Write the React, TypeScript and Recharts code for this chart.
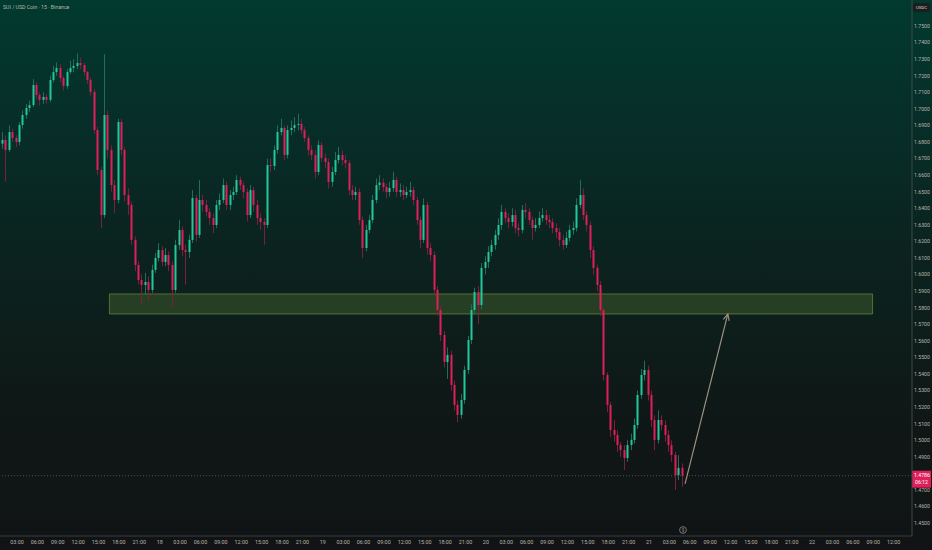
import React from 'react';
import { ComposedChart, Bar, XAxis, YAxis, ReferenceArea, ReferenceLine, ReferenceDot } from 'recharts';

// Candle timing: hours after 17 00:00, 30-minute candles (aggregated from the 15m view)
const START_HOUR = 0.75;
const STEP_HOURS = 0.5;
const FIRST_OPEN = 1.679;

const closes = [
  1.6812, 1.6752, 1.6860, 1.6824, 1.6800, 1.6903, 1.6963, 1.7005, 1.7023, 1.7144,
  1.7084, 1.7054, 1.7072, 1.7054, 1.7174, 1.7222, 1.7247, 1.7186, 1.7138, 1.7222,
  1.7247, 1.7259, 1.7277, 1.7265, 1.7222, 1.7174, 1.7102, 1.6872, 1.6631, 1.6359,
  1.6963, 1.6752, 1.6540, 1.6450, 1.6921, 1.6752, 1.6480, 1.6420, 1.6209, 1.6058,
  1.5967, 1.5937, 1.5955, 1.5907, 1.6028, 1.6100, 1.6148, 1.6076, 1.6118, 1.6058,
  1.5907, 1.6178, 1.6269, 1.6148, 1.6136, 1.6209, 1.6462, 1.6239, 1.6450, 1.6420,
  1.6378, 1.6341, 1.6299, 1.6420, 1.6450, 1.6540, 1.6420, 1.6480, 1.6498, 1.6571,
  1.6540, 1.6498, 1.6359, 1.6510, 1.6420, 1.6341, 1.6317, 1.6299, 1.6661, 1.6655,
  1.6752, 1.6860, 1.6885, 1.6722, 1.6872, 1.6885, 1.6903, 1.6909, 1.6872, 1.6824,
  1.6752, 1.6722, 1.6619, 1.6782, 1.6704, 1.6679, 1.6559, 1.6619, 1.6691, 1.6722,
  1.6691, 1.6673, 1.6510, 1.6480, 1.6498, 1.6329, 1.6160, 1.6269, 1.6329, 1.6450,
  1.6540, 1.6555, 1.6528, 1.6498, 1.6522, 1.6571, 1.6498, 1.6510, 1.6480, 1.6498,
  1.6510, 1.6450, 1.6329, 1.6209, 1.6420, 1.6160, 1.6118, 1.5907, 1.5786, 1.5635,
  1.5472, 1.5515, 1.5334, 1.5213, 1.5153, 1.5243, 1.5424, 1.5605, 1.5786, 1.5895,
  1.5816, 1.6040, 1.6076, 1.6136, 1.6178, 1.6239, 1.6299, 1.6378, 1.6341, 1.6317,
  1.6359, 1.6281, 1.6269, 1.6390, 1.6378, 1.6329, 1.6281, 1.6299, 1.6341, 1.6359,
  1.6329, 1.6317, 1.6281, 1.6257, 1.6209, 1.6178, 1.6221, 1.6269, 1.6281, 1.6420,
  1.6480, 1.6359, 1.6299, 1.6148, 1.6040, 1.5937, 1.5786, 1.5394, 1.5213, 1.5062,
  1.5032, 1.4971, 1.4941, 1.4893, 1.4971, 1.5002, 1.5092, 1.5273, 1.5394, 1.5424,
  1.5273, 1.5122, 1.5002, 1.5122, 1.5092, 1.5032, 1.4971, 1.4911, 1.4790, 1.4833,
  1.4786,
];

const highs = [
  1.686, 1.684, 1.690, 1.688, 1.684, 1.692, 1.699, 1.703, 1.705, 1.718,
  1.716, 1.710, 1.710, 1.709, 1.720, 1.726, 1.728, 1.727, 1.720, 1.724,
  1.729, 1.730, 1.7335, 1.731, 1.728, 1.723, 1.719, 1.712, 1.689, 1.665,
  1.733, 1.699, 1.678, 1.657, 1.694, 1.694, 1.677, 1.652, 1.644, 1.623,
  1.608, 1.600, 1.601, 1.599, 1.606, 1.613, 1.619, 1.617, 1.616, 1.614,
  1.608, 1.621, 1.633, 1.629, 1.618, 1.624, 1.651, 1.648, 1.657, 1.648,
  1.645, 1.640, 1.637, 1.645, 1.649, 1.658, 1.656, 1.651, 1.653, 1.660,
  1.659, 1.656, 1.652, 1.654, 1.653, 1.645, 1.637, 1.634, 1.670, 1.670,
  1.678, 1.690, 1.694, 1.690, 1.690, 1.693, 1.695, 1.697, 1.694, 1.689,
  1.684, 1.678, 1.675, 1.681, 1.680, 1.673, 1.670, 1.665, 1.674, 1.677,
  1.675, 1.672, 1.669, 1.654, 1.653, 1.652, 1.635, 1.630, 1.636, 1.648,
  1.658, 1.660, 1.658, 1.655, 1.656, 1.662, 1.659, 1.655, 1.654, 1.653,
  1.656, 1.653, 1.647, 1.635, 1.646, 1.644, 1.619, 1.614, 1.593, 1.581,
  1.566, 1.556, 1.554, 1.536, 1.524, 1.528, 1.545, 1.563, 1.582, 1.592,
  1.593, 1.607, 1.611, 1.617, 1.621, 1.627, 1.634, 1.642, 1.640, 1.637,
  1.640, 1.639, 1.631, 1.642, 1.643, 1.640, 1.635, 1.634, 1.638, 1.640,
  1.639, 1.636, 1.634, 1.631, 1.628, 1.624, 1.626, 1.630, 1.632, 1.646,
  1.657, 1.652, 1.638, 1.632, 1.617, 1.606, 1.596, 1.580, 1.541, 1.523,
  1.512, 1.506, 1.499, 1.497, 1.500, 1.504, 1.513, 1.530, 1.543, 1.548,
  1.545, 1.530, 1.515, 1.518, 1.515, 1.512, 1.506, 1.500, 1.493, 1.491,
  1.486,
];

const lows = [
  1.676, 1.656, 1.674, 1.680, 1.677, 1.678, 1.688, 1.694, 1.698, 1.701,
  1.706, 1.702, 1.703, 1.703, 1.704, 1.716, 1.720, 1.716, 1.711, 1.712,
  1.721, 1.722, 1.724, 1.724, 1.720, 1.715, 1.708, 1.685, 1.660, 1.628,
  1.634, 1.670, 1.650, 1.637, 1.643, 1.672, 1.644, 1.636, 1.618, 1.602,
  1.594, 1.582, 1.588, 1.584, 1.589, 1.601, 1.608, 1.605, 1.605, 1.602,
  1.580, 1.589, 1.615, 1.611, 1.594, 1.610, 1.619, 1.620, 1.622, 1.638,
  1.635, 1.630, 1.625, 1.628, 1.639, 1.643, 1.639, 1.639, 1.645, 1.648,
  1.651, 1.646, 1.632, 1.634, 1.638, 1.630, 1.627, 1.618, 1.628, 1.662,
  1.663, 1.673, 1.684, 1.669, 1.670, 1.684, 1.686, 1.687, 1.685, 1.680,
  1.672, 1.669, 1.658, 1.660, 1.668, 1.664, 1.652, 1.653, 1.660, 1.667,
  1.666, 1.664, 1.648, 1.645, 1.645, 1.630, 1.610, 1.614, 1.625, 1.631,
  1.643, 1.651, 1.650, 1.646, 1.647, 1.650, 1.647, 1.647, 1.645, 1.646,
  1.647, 1.642, 1.630, 1.616, 1.619, 1.612, 1.608, 1.587, 1.575, 1.560,
  1.544, 1.537, 1.530, 1.518, 1.511, 1.513, 1.522, 1.540, 1.558, 1.576,
  1.570, 1.579, 1.600, 1.604, 1.611, 1.615, 1.621, 1.627, 1.631, 1.628,
  1.629, 1.625, 1.623, 1.625, 1.634, 1.630, 1.621, 1.626, 1.628, 1.632,
  1.630, 1.628, 1.625, 1.622, 1.617, 1.615, 1.616, 1.620, 1.624, 1.626,
  1.640, 1.633, 1.626, 1.610, 1.600, 1.590, 1.575, 1.536, 1.517, 1.502,
  1.499, 1.493, 1.490, 1.482, 1.487, 1.494, 1.498, 1.507, 1.525, 1.536,
  1.524, 1.508, 1.494, 1.498, 1.506, 1.499, 1.493, 1.487, 1.470, 1.476,
  1.472,
];

// 1.4800 sits under the live price tag in the reference, so it is not listed
const priceTicks = [
  1.45, 1.46, 1.47, 1.49, 1.50, 1.51, 1.52, 1.53, 1.54, 1.55,
  1.56, 1.57, 1.58, 1.59, 1.60, 1.61, 1.62, 1.63, 1.64, 1.65,
  1.66, 1.67, 1.68, 1.69, 1.70, 1.71, 1.72, 1.73, 1.74, 1.75,
];

const timeTicks = [
  3, 6, 9, 12, 15, 18, 21, 24, 27, 30, 33, 36, 39, 42, 45, 48, 51, 54, 57, 60, 63, 66,
  69, 72, 75, 78, 81, 84, 87, 90, 93, 96, 99, 102, 105, 108, 111, 114, 117, 120, 123,
  126, 129, 132,
];

const FIRST_DAY = 17;
const X_DOMAIN = [0.5, 134.7];
const Y_DOMAIN = [1.4422, 1.7657];

// Support zone and projection arrow
const zone = { x1: 16.6, x2: 128.9, low: 1.5762, high: 1.5883 };
const arrow = { fromT: 101.3, fromP: 1.4736, toT: 107.6, toP: 1.5762 };
const lastPrice = 1.4786;
const countdown = '06:12';

const UP = '#22c79b';
const DOWN = '#df1f5a';
const UP_WICK = '#1f6f5a';
const DOWN_WICK = '#7a1f3d';
const TEXT = '#b9b5a8';

const data = closes.map((c, i) => ({
  t: START_HOUR + i * STEP_HOURS,
  open: i === 0 ? FIRST_OPEN : closes[i - 1],
  close: c,
  high: highs[i],
  low: lows[i],
  range: [lows[i], highs[i]],
}));

const fmtTime = (h: number) => {
  if (h % 24 === 0) return String(FIRST_DAY + h / 24);
  const hh = h % 24;
  return `${hh < 10 ? '0' : ''}${hh}:00`;
};

const Candle = (props: any) => {
  const { x, y, width, height, payload } = props;
  if (!payload) return null;
  const { open, close, high, low } = payload;
  let top = y;
  let h = height;
  if (h < 0) {
    top = y + h;
    h = -h;
  }
  const span = high - low || 1e-9;
  const yOf = (p: number) => top + ((high - p) / span) * h;
  const yo = yOf(open);
  const yc = yOf(close);
  const up = close >= open;
  const bt = Math.min(yo, yc);
  const bh = Math.max(Math.abs(yo - yc), 1);
  const cx = Math.round(x + width / 2);
  return (
    <g>
      <line x1={cx + 0.5} x2={cx + 0.5} y1={top} y2={top + h} stroke={up ? UP_WICK : DOWN_WICK} strokeWidth={1} />
      <rect x={cx - 0.5} y={bt} width={2} height={bh} fill={up ? UP : DOWN} />
    </g>
  );
};

const ArrowShape = (props: any) => {
  const { x1, y1, x2, y2 } = props;
  if ([x1, y1, x2, y2].some((v) => typeof v !== 'number')) return null;
  const ang = Math.atan2(y2 - y1, x2 - x1);
  const len = 7;
  const a1 = ang + Math.PI - 0.45;
  const a2 = ang + Math.PI + 0.45;
  return (
    <g>
      <line x1={x1} y1={y1} x2={x2} y2={y2} stroke="#9b9282" strokeWidth={1.2} />
      <polyline
        points={`${x2 + len * Math.cos(a1)},${y2 + len * Math.sin(a1)} ${x2},${y2} ${x2 + len * Math.cos(a2)},${y2 + len * Math.sin(a2)}`}
        fill="none"
        stroke="#9b9282"
        strokeWidth={1.2}
      />
    </g>
  );
};

const PriceTag = (props: any) => {
  const vb = props.viewBox || {};
  const right = (vb.x || 0) + (vb.width || 0);
  const y = vb.y || 0;
  return (
    <g>
      <rect x={right} y={y - 5} width={19} height={17} fill="#df1f5a" />
      <text x={right + 2} y={y + 1.5} fill="#ffffff" fontSize={5.2} fontFamily="Roboto, sans-serif">
        {lastPrice.toFixed(4)}
      </text>
      <text x={right + 3} y={y + 8.5} fill="#ffffff" fontSize={5.2} fontFamily="Roboto, sans-serif">
        {countdown}
      </text>
    </g>
  );
};

export default function App() {
  return (
    <div
      style={{
        position: 'absolute',
        left: 0,
        top: 0,
        width: 932,
        height: 550,
        background: 'linear-gradient(180deg, #013a2e 0%, #06302a 18%, #0b231f 45%, #0f1816 75%, #111315 100%)',
        fontFamily: 'Roboto, sans-serif',
        overflow: 'hidden',
      }}
    >
      <ComposedChart width={932} height={550} data={data} margin={{ top: 0, right: 0, bottom: 0, left: 0 }}>
        <XAxis
          dataKey="t"
          type="number"
          domain={X_DOMAIN}
          allowDataOverflow
          ticks={timeTicks}
          tickFormatter={fmtTime}
          interval={0}
          height={14}
          tickLine={false}
          tickSize={0}
          tickMargin={4}
          axisLine={{ stroke: '#3a3d40' }}
          tick={{ fill: TEXT, fontSize: 5.4 }}
        />
        <YAxis
          orientation="right"
          type="number"
          domain={Y_DOMAIN}
          allowDataOverflow
          ticks={priceTicks}
          interval={0}
          width={20}
          tickLine={false}
          tickSize={0}
          tickMargin={2}
          axisLine={{ stroke: '#3f4a40' }}
          tick={{ fill: TEXT, fontSize: 5.2 }}
          tickFormatter={(v: number) => v.toFixed(4)}
        />
        <Bar dataKey="range" barSize={2} shape={Candle} isAnimationActive={false} />
        <ReferenceArea
          x1={zone.x1}
          x2={zone.x2}
          y1={zone.low}
          y2={zone.high}
          fill="#8fbf45"
          fillOpacity={0.2}
          stroke="#7fa642"
          strokeOpacity={0.55}
          strokeWidth={1}
          ifOverflow="visible"
        />
        <ReferenceLine
          segment={[
            { x: arrow.fromT, y: arrow.fromP },
            { x: arrow.toT, y: arrow.toP },
          ]}
          shape={ArrowShape}
          ifOverflow="visible"
        />
        <ReferenceLine
          y={lastPrice}
          stroke="#5a4a4a"
          strokeDasharray="1 2"
          strokeWidth={1}
          label={{ content: PriceTag } as any}
          ifOverflow="visible"
        />
        <ReferenceDot
          x={101}
          y={1.4458}
          r={3.4}
          fill="none"
          stroke="#8c8c8c"
          strokeWidth={0.8}
          ifOverflow="visible"
          label={{ value: '$', fill: '#9a9a9a', fontSize: 4.5, position: 'center' }}
        />
      </ComposedChart>
      <div
        style={{
          position: 'absolute',
          left: 3,
          top: 4,
          fontSize: 5.2,
          color: TEXT,
          whiteSpace: 'nowrap',
          lineHeight: '6px',
        }}
      >
        SUI / USD Coin · 15 · Binance
      </div>
      <div
        style={{
          position: 'absolute',
          left: 913,
          top: 3,
          width: 17,
          height: 9,
          background: '#1b1e1e',
          borderRadius: 1.5,
          color: '#d8d8d0',
          fontSize: 4.4,
          lineHeight: '9px',
          textAlign: 'center',
        }}
      >
        USDC
      </div>
    </div>
  );
}
